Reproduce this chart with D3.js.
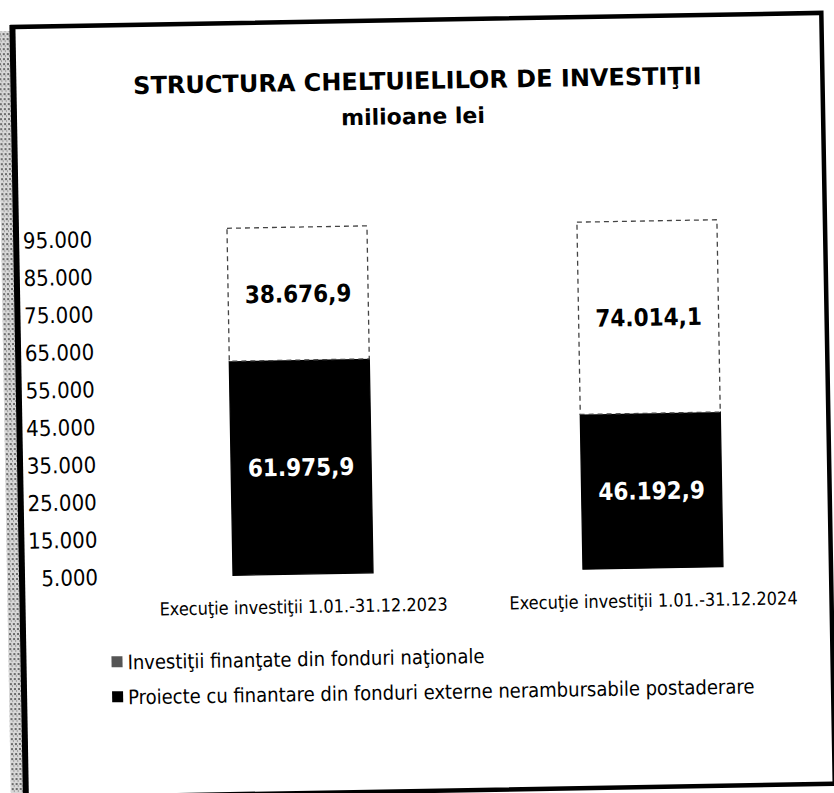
<!DOCTYPE html>
<html>
<head>
<meta charset="utf-8">
<script src="https://cdn.jsdelivr.net/npm/d3@7"></script>
<style>
  html, body { margin: 0; padding: 0; background: #fff; }
  svg { display: block; }
  text { font-family: "DejaVu Sans Condensed", "DejaVu Sans", sans-serif; font-stretch: condensed; }
  text.wide { font-family: "DejaVu Sans", sans-serif; font-stretch: normal; }
</style>
</head>
<body>
<svg id="chart" width="834" height="793"></svg>
<script>
// ---- data ----
const categories = ["Execuţie investiţii 1.01.-31.12.2023", "Execuţie investiţii 1.01.-31.12.2024"];
const seriesNames = ["Investiţii finanţate din fonduri naţionale",
                     "Proiecte cu finantare din fonduri externe nerambursabile postaderare"];
const externalFunds = [61975.9, 46192.9];   // black segment (bottom)
const nationalFunds = [38676.9, 74014.1];   // white segment (top)
const yTickValues = [5000, 15000, 25000, 35000, 45000, 55000, 65000, 75000, 85000, 95000];
const yAxisMin = 5000;
const yAxisMax = 97400;
const titleText = "STRUCTURA CHELTUIELILOR DE INVESTIŢII";
const subtitleText = "milioane lei";

// ---- setup ----
const svg = d3.select("#chart");
const root = svg.append("g").attr("transform", "rotate(-1, 417, 400)");

const ro = d3.formatLocale({ decimal: ",", thousands: ".", grouping: [3], currency: ["", " lei"] });
const fmtTick = ro.format(",.0f");
const fmtVal = ro.format(",.1f");

// left scan edge texture
const defs = svg.append("defs");
const pat = defs.append("pattern").attr("id", "speck").attr("width", 4).attr("height", 5)
  .attr("patternUnits", "userSpaceOnUse");
pat.append("rect").attr("width", 4).attr("height", 5).attr("fill", "#d8d8d8");
pat.append("rect").attr("x", 1).attr("y", 1).attr("width", 2).attr("height", 2).attr("fill", "#6a6a6a");
pat.append("rect").attr("x", 3).attr("y", 3).attr("width", 1).attr("height", 2).attr("fill", "#9a9a9a");
root.append("rect").attr("x", 4).attr("y", 24).attr("width", 13).attr("height", 800)
  .attr("fill", "url(#speck)");

// frame
root.append("rect").attr("x", 19).attr("y", 20).attr("width", 809).attr("height", 771)
  .attr("fill", "none").attr("stroke", "#000").attr("stroke-width", 4.5);
root.append("line").attr("x1", 19).attr("x2", 19).attr("y1", 18).attr("y2", 800)
  .attr("stroke", "#000").attr("stroke-width", 6);

// scales
const x = d3.scaleBand().domain(categories).range([160, 790]).paddingInner(0.6).paddingOuter(0.2);
const y = d3.scaleLinear().domain([yAxisMin, yAxisMax]).range([572, 225]).clamp(true);

// stacked data
const rows = categories.map((c, i) => ({ cat: c, ext: externalFunds[i], nat: nationalFunds[i] }));
const layers = d3.stack().keys(["ext", "nat"])(rows);

// title
root.append("text").attr("class", "wide").attr("x", 423).attr("y", 89).attr("text-anchor", "middle")
  .attr("font-size", 24).attr("font-weight", "bold").attr("fill", "#000").text(titleText);
root.append("text").attr("class", "wide").attr("x", 418).attr("y", 124).attr("text-anchor", "middle")
  .attr("font-size", 22).attr("font-weight", "bold").attr("fill", "#000").text(subtitleText);

// y axis (labels only)
const yAxis = d3.axisLeft(y).tickValues(yTickValues).tickFormat(fmtTick).tickSize(0).tickPadding(0);
const gy = root.append("g").attr("transform", "translate(95,0)").call(yAxis);
gy.select(".domain").remove();
gy.selectAll("text").attr("font-size", 22).attr("fill", "#000")
  .style("font-family", "'DejaVu Sans Condensed', 'DejaVu Sans', sans-serif");

// bars
const styles = {
  ext: { fill: "#000", stroke: "#000", dash: null },
  nat: { fill: "#fff", stroke: "#444", dash: "5,4" }
};
layers.forEach(layer => {
  const st = styles[layer.key];
  root.append("g").selectAll("rect").data(layer).join("rect")
    .attr("x", d => x(d.data.cat))
    .attr("width", x.bandwidth())
    .attr("y", d => y(d[1]))
    .attr("height", d => y(d[0]) - y(d[1]))
    .attr("fill", st.fill)
    .attr("stroke", st.stroke)
    .attr("stroke-width", 1.3)
    .attr("stroke-dasharray", st.dash);
});

// value labels (centred in the visible part of each segment)
layers.forEach(layer => {
  root.append("g").selectAll("text").data(layer).join("text")
    .attr("x", d => x(d.data.cat) + x.bandwidth() / 2)
    .attr("y", d => (y(d[0]) + y(d[1])) / 2)
    .attr("dy", "0.36em")
    .attr("text-anchor", "middle")
    .attr("font-size", 24).attr("font-weight", "bold")
    .attr("fill", layer.key === "ext" ? "#fff" : "#000")
    .text(d => fmtVal(d[1] - d[0]));
});

// category labels
root.append("g").selectAll("text").data(categories).join("text")
  .attr("x", d => x(d) + x.bandwidth() / 2)
  .attr("y", 611)
  .attr("text-anchor", "middle")
  .attr("font-size", 18).attr("fill", "#000")
  .text(d => d);

// legend
const legendY = [657, 692];
const legendFill = ["#555", "#000"];
const lg = root.append("g").selectAll("g").data(seriesNames).join("g")
  .attr("transform", (d, i) => `translate(107,${legendY[i]})`);
lg.append("rect").attr("x", 0).attr("y", -6).attr("width", 11).attr("height", 11)
  .attr("fill", (d, i) => legendFill[i]);
lg.append("text").attr("x", 16).attr("y", 0).attr("dy", "0.36em")
  .attr("font-size", 20).attr("fill", "#000").text(d => d);
</script>
</body>
</html>
